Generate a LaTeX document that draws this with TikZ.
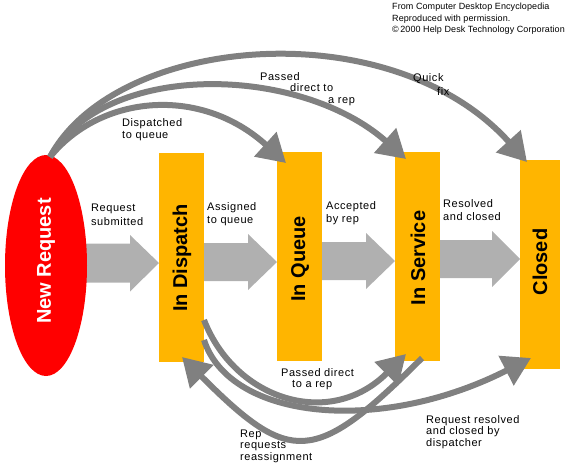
\documentclass[tikz,border=0pt]{standalone}
\usepackage{fontspec}
\setmainfont{Liberation Sans}
\newfontfamily\lblfont[LetterSpace=5]{Liberation Sans}
\newfontfamily\credfont[LetterSpace=1]{Liberation Sans}
\usetikzlibrary{arrows.meta,shapes.geometric}
\definecolor{nrred}{RGB}{255,0,0}
\definecolor{stateor}{RGB}{255,181,0}
\definecolor{darkg}{RGB}{128,128,128}
\definecolor{lightg}{RGB}{176,176,176}
\begin{document}
\begin{tikzpicture}[x=1pt,y=-1pt,
 statebox/.style={fill=stateor, draw=none, minimum width=45pt, minimum height=209pt, inner sep=0pt},
 statelabel/.style={rotate=90, inner sep=0pt, font=\fontsize{20}{24}\selectfont\bfseries},
 flow/.style={draw=darkg, line width=6pt, -{Triangle[length=28pt,width=32pt]}},
 bigarr/.style={fill=lightg, draw=none},
 lbl/.style={anchor=west, align=left, inner sep=0pt, font=\lblfont\fontsize{11}{13.5}\selectfont},
 lbltight/.style={lbl, font=\lblfont\fontsize{11}{11.5}\selectfont},
]
\useasboundingbox (0,0) rectangle (569,469);

% big light grey transition arrows
\fill[bigarr] (86,243.5) -- (130,243.5) -- (130,235) -- (159,263) -- (130,291.5) -- (130,282.5) -- (86,282.5) -- cycle;
\fill[bigarr] (204,243) -- (248,243) -- (248,234) -- (277,262) -- (248,290) -- (248,281) -- (204,281) -- cycle;
\fill[bigarr] (322,242) -- (366,242) -- (366,233) -- (395,261) -- (366,289) -- (366,280) -- (322,280) -- cycle;
\fill[bigarr] (440,240) -- (492,240) -- (492,231) -- (520,259) -- (492,287) -- (492,278) -- (440,278) -- cycle;

% states
\node[ellipse, fill=nrred, minimum width=82pt, minimum height=221pt, inner sep=0pt] (nr) at (46,265.5) {};
\node[statelabel, text=white] (nrl) at (46,261) {New Request};
\node[statebox] (disp) at (181.5,257.5) {};
\node[statebox] (queue) at (299.5,256.5) {};
\node[statebox] (serv) at (417.5,256.5) {};
\node[statebox, minimum width=40pt] (closed) at (540,264.5) {};
\node[statelabel] (displ) at (182,258) {In Dispatch};
\node[statelabel] (queuel) at (300,259) {In Queue};
\node[statelabel] (servl) at (418,258) {In Service};
\node[statelabel] (closedl) at (540,262) {Closed};

% connector end points
\coordinate (nrtop) at (50,157);
\coordinate (qtip) at (286,163);
\coordinate (stip) at (406,159);
\coordinate (ctip) at (527,162);
\coordinate (dout1) at (204,320);
\coordinate (dout2) at (204,340);
\coordinate (stipb) at (406,354);
\coordinate (ctipb) at (531,358);
\coordinate (sout) at (422,358);
\coordinate (dtipb) at (182,357);

% upper curved connectors
\draw[flow] (nrtop) .. controls (115,35) and (390,10) .. (ctip);
\draw[flow] (nrtop) .. controls (105,60) and (300,65) .. (stip);
\draw[flow] (nrtop) .. controls (100,95) and (200,85) .. (qtip);

% lower curved connectors
\draw[flow] (dout1) .. controls (235,400) and (330,430) .. (stipb);
\draw[flow] (dout2) .. controls (230,420) and (380,435) .. (ctipb);
\draw[flow] (sout) .. controls (314,466) and (290,465) .. (dtipb);

% labels
\node[lbl] (l1) at (91,215) {Request\\submitted};
\node[lbl] (l2) at (207,214) {Assigned\\to queue};
\node[lbl] (l3) at (326,213) {Accepted\\by rep};
\node[lbl] (l4) at (443,210) {Resolved\\and closed};
\node[lbltight] (l5) at (122,129.5) {Dispatched\\to queue};
\node[lbltight] (l6) at (260,89) {Passed\\\hspace*{30pt}direct to\\\hspace*{68pt}a rep};
\node[lbl] (l7) at (413,84.5) {Quick\\\hspace*{24pt}fix};
\node[lbltight] (l8) at (281,379) {Passed direct\\\hspace*{11pt}to a rep};
\node[lbltight] (l9) at (240,446) {Rep\\requests\\reassignment};
\node[lbltight] (l10) at (426,432) {Request resolved\\and closed by\\dispatcher};
\node[anchor=north west, align=left, inner sep=0pt, font=\credfont\fontsize{9}{11.8}\selectfont] (credit) at (392,2.5) {From Computer Desktop Encyclopedia\\Reproduced with permission.\\\textcopyright\,2000 Help Desk Technology Corporation};
\end{tikzpicture}
\end{document}
